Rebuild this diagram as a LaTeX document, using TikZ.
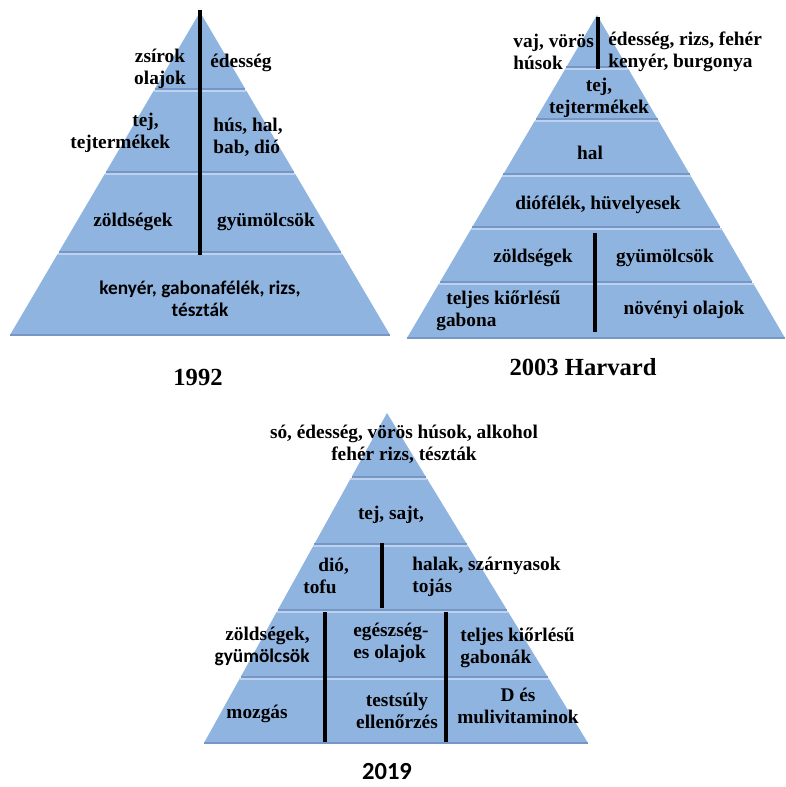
\documentclass[tikz,border=0pt]{standalone}
\usepackage{fontspec}
\setmainfont{Liberation Serif}
\newfontfamily\seriffood{Liberation Serif}
\newfontfamily\sansfood{Carlito}
\usepackage{tikz}
\usetikzlibrary{calc}
\definecolor{bandblue}{RGB}{143,180,224}
\definecolor{bandlight}{RGB}{188,210,238}
\definecolor{banddark}{RGB}{118,150,198}
\tikzstyle{band} = [fill=bandblue]
\tikzstyle{bandtop} = [draw=bandlight, line width=1.2pt]
\tikzstyle{bandlow} = [draw=banddark, line width=0.8pt]
\tikzstyle{divider} = [draw, line width=2.2pt]
\tikzstyle{food} = [inner sep=0pt, align=center, font=\seriffood\fontsize{11}{12.5}\selectfont\bfseries]
\tikzstyle{foodsans} = [inner sep=0pt, align=center, font=\sansfood\fontsize{11}{12.5}\selectfont\bfseries]
\tikzstyle{year} = [inner sep=0pt, font=\seriffood\fontsize{14}{16}\selectfont\bfseries]
\tikzstyle{yearsans} = [inner sep=0pt, font=\sansfood\fontsize{14}{16}\selectfont\bfseries]
% one pyramid: name, apex y, base y, list of bands ytop/ybot
\newcommand{\pyramid}[4]{%
  \foreach \yt/\yb in {#4} {
    \pgfmathsetmacro\ta{(\yt-#2)/(#3-#2)}
    \pgfmathsetmacro\tb{(\yb-#2)/(#3-#2)}
    \path [band] ($(#1a)!\ta!(#1l)$) -- ($(#1a)!\ta!(#1r)$) -- ($(#1a)!\tb!(#1r)$) -- ($(#1a)!\tb!(#1l)$) -- cycle;
    \path [bandtop] ($(#1a)!\ta!(#1l)$) -- ($(#1a)!\ta!(#1r)$);
    \path [bandlow] ($(#1a)!\tb!(#1l)$) -- ($(#1a)!\tb!(#1r)$);
  }}
\begin{document}
\begin{tikzpicture}[x=0.02cm, y=-0.02cm]
			\useasboundingbox (0,0) rectangle (786,787);
			% Pyramid corners
			\coordinate (p1a) at (200,12);
			\coordinate (p1l) at (10,335);
			\coordinate (p1r) at (390,335);
			\coordinate (p2a) at (597,15);
			\coordinate (p2l) at (407,338);
			\coordinate (p2r) at (785,338);
			\coordinate (p3a) at (387,413);
			\coordinate (p3l) at (204,743);
			\coordinate (p3r) at (588,743);
			
			% Draw bands
			\pyramid{p1}{12}{335}{12/89, 91/172, 174/252, 254/335}
			\pyramid{p2}{15}{338}{15/67, 69/119, 121/174, 176/227, 229/282, 284/338}
			\pyramid{p3}{413}{743}{413/477, 479/544, 546/610, 612/677, 679/743}
			
			% Dividers
			\coordinate (d1t) at (200,10);
			\coordinate (d1b) at (200,255);
			\coordinate (d2t) at (598,17);
			\coordinate (d2b) at (598,69);
			\coordinate (d3t) at (595,233);
			\coordinate (d3b) at (595,332);
			\coordinate (d4t) at (382,543);
			\coordinate (d4b) at (382,608);
			\coordinate (d5t) at (325,612);
			\coordinate (d5b) at (325,742);
			\coordinate (d6t) at (446,612);
			\coordinate (d6b) at (446,742);
			\path [divider] (d1t) -- (d1b);
			\path [divider] (d2t) -- (d2b);
			\path [divider] (d3t) -- (d3b);
			\path [divider] (d4t) -- (d4b);
			\path [divider] (d5t) -- (d5b);
			\path [divider] (d6t) -- (d6b);
			
			% Place nodes 1992
			\node [food] (fat) at (160,69) {zsírok\\olajok};
			\node [food] (sweet) at (241,63) {édesség};
			\node [food, align=left, anchor=west] (milk) at (70,133) {\hspace*{1.24cm}tej,\\tejtermékek};
			\node [food, align=left, anchor=west] (meat) at (213,137) {hús, hal,\\bab, dió};
			\node [food] (veg) at (133,222) {zöldségek};
			\node [food] (fruit) at (266,222) {gyümölcsök};
			\node [foodsans] (bread) at (200,299) {kenyér, gabonafélék, rizs,\\tészták};
			\node [year] (y1992) at (198,377) {1992};
			
			% Place nodes 2003
			\node [food, align=left, anchor=west] (redmeat) at (513,52) {vaj, vörös\\húsok};
			\node [food, align=left, anchor=west] (sweets) at (608,52) {édesség, rizs, fehér\\kenyér, burgonya};
			\node [food] (dairy) at (599,98) {tej,\\tejtermékek};
			\node [food] (fish) at (590,153) {hal};
			\node [food] (nuts) at (598,205) {diófélék, hüvelyesek};
			\node [food] (vegs) at (533,258) {zöldségek};
			\node [food] (fruits) at (665,258) {gyümölcsök};
			\node [food, align=left, anchor=west] (grain) at (436,311) {\hspace*{0.2cm}teljes kiőrlésű\\gabona};
			\node [food] (oil) at (684,310) {növényi olajok};
			\node [year] (y2003) at (583,367) {2003 Harvard};
			
			% Place nodes 2019
			\node [food] (salt) at (404,444) {só, édesség, vörös húsok, alkohol\\fehér rizs, tészták};
			\node [food] (cheese) at (391,515) {tej, sajt,};
			\node [food, align=left, anchor=west] (tofu) at (303,576) {\hspace*{0.3cm}dió,\\tofu};
			\node [food, align=left, anchor=west] (poultry) at (412,577) {halak, szárnyasok\\tojás};
			\node [food, align=right, anchor=east] (greens) at (310,646) {zöldségek,\\{\sansfood\bfseries gyümölcsök}};
			\node [food, align=left, anchor=west] (goodoil) at (353,643) {egészség-\\es olajok};
			\node [food, align=left, anchor=west] (grains) at (460,648) {teljes kiőrlésű\\gabonák};
			\node [food] (move) at (257,714) {mozgás};
			\node [food] (weight) at (397,711) {testsúly\\ellenőrzés};
			\node [food] (vitamin) at (518,706) {D és\\mulivitaminok};
			\node [yearsans] (y2019) at (387,772) {2019};
		\end{tikzpicture}
\end{document}
